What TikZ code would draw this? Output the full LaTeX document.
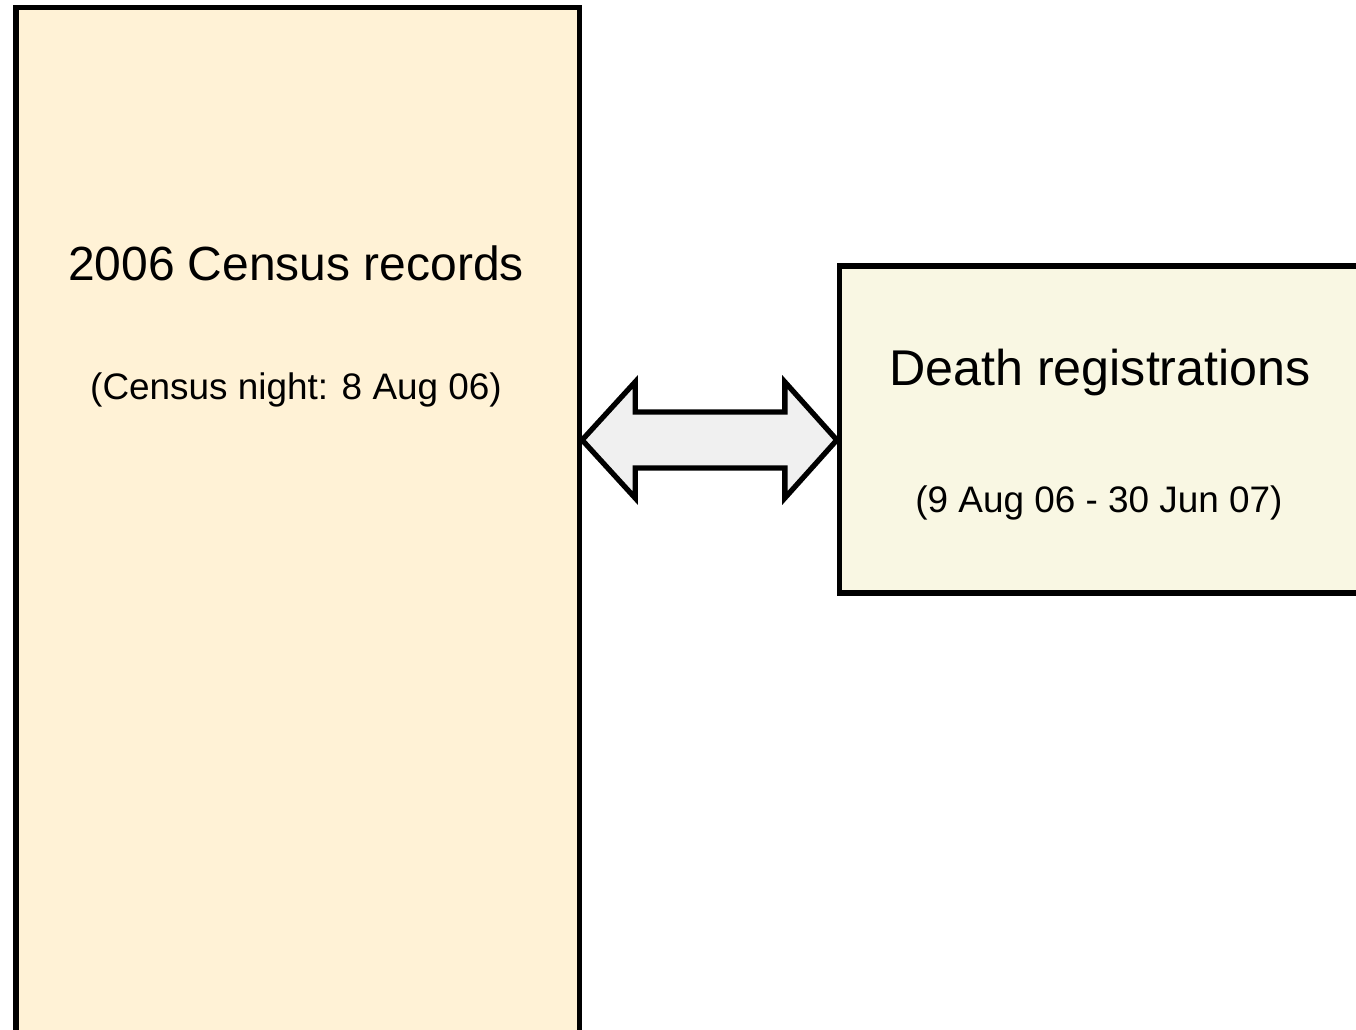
\documentclass[tikz,border=0pt]{standalone}
\usepackage{fontspec}
\setmainfont{Liberation Sans}
\usetikzlibrary{calc}
\definecolor{censusfill}{HTML}{FFF2D6}
\definecolor{deathfill}{HTML}{F9F7E3}
\definecolor{arrowfill}{HTML}{F0F0F0}
\newcommand{\pxl}{0.02}
\tikzset{
  recbox/.style={draw=black, line width=3pt, rectangle, inner sep=0pt},
  bigtext/.style={font=\fontsize{27.3}{33}\selectfont, anchor=base},
  smalltext/.style={font=\fontsize{21}{25}\selectfont, anchor=base},
  dblarrow/.style={draw=black, fill=arrowfill, line width=3pt, line join=miter},
}

\begin{document}
\begin{tikzpicture}[x=\pxl cm, y=-\pxl cm]
    \clip (0,0) rectangle (1356,1030);

    % the two record sets
    \node[recbox, fill=censusfill, minimum width=563.5*\pxl cm, minimum height=1100*\pxl cm] (census) at (297.75,557.5) {};
    \node[recbox, fill=deathfill, minimum width=522.5*\pxl cm, minimum height=327*\pxl cm] (deaths) at (1100.75,429.5) {};

    \node[bigtext] (censustitle) at (296,281) {2006 Census records};
    \node[smalltext] (censusdate) at (296,400) {(Census night: 8 Aug 06)};
    \node[bigtext, font=\fontsize{28.6}{34}\selectfont] (deathtitle) at (1100,386) {Death registrations};
    \node[smalltext] (deathdate) at (1099,512) {(9 Aug 06 - 30 Jun 07)};

    % linkage arrow
    \coordinate (ltip) at (census.east |- 0,440);
    \coordinate (rtip) at (deaths.west |- 0,440);
    \draw[dblarrow] (ltip) -- ++(53,-58) -- ++(0,30) -- ($(rtip)+(-52,-28)$) -- ++(0,-30) -- (rtip)
        -- ++(-52,58) -- ++(0,-30) -- ($(ltip)+(53,28)$) -- ++(0,30) -- cycle;
\end{tikzpicture}
\end{document}
